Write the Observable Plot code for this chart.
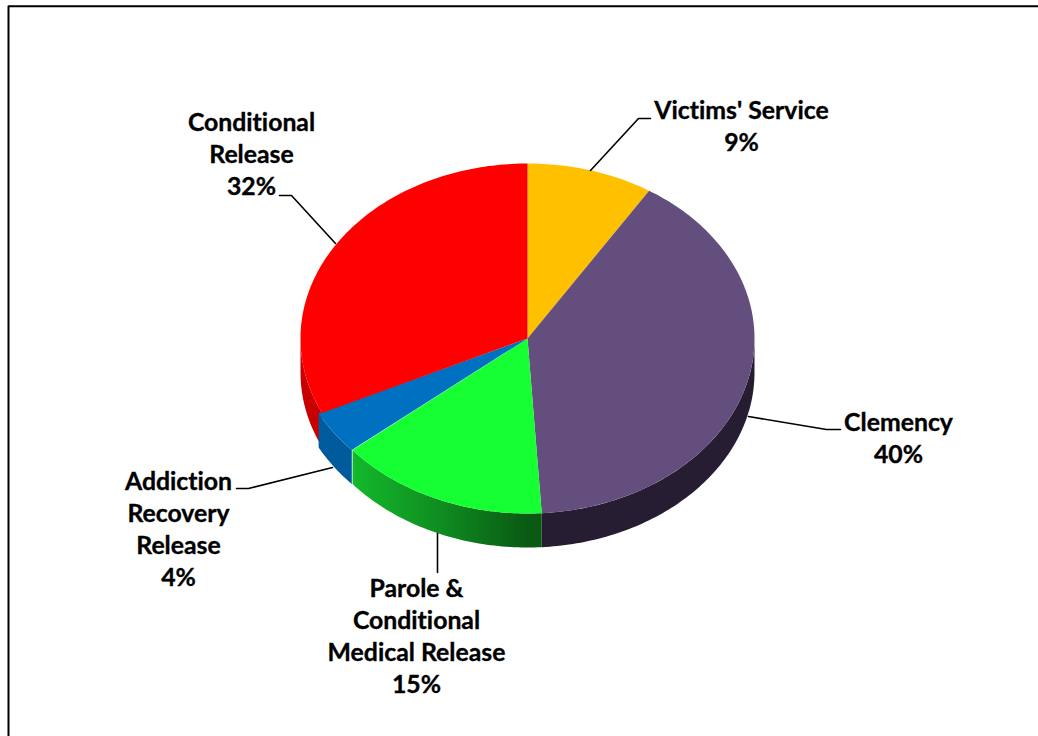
<!DOCTYPE html>
<html>
<head>
<meta charset="utf-8">
<script src="https://cdn.jsdelivr.net/npm/d3@7"></script>
<script src="https://cdn.jsdelivr.net/npm/@observablehq/plot@0.6"></script>
<style>html,body{margin:0;padding:0;background:#fff;overflow:hidden}svg{display:block}svg text{font-variant-ligatures:none}</style>
</head>
<body>
<div id="chart"></div>
<script>
// Data, clockwise from twelve o'clock
const categories = ["Victims' Service", "Clemency", "Parole & Conditional Medical Release", "Addiction Recovery Release", "Conditional Release"];
const shares = [9, 40, 15, 4, 32];
const labelLines = [["Victims' Service"], ["Clemency"], ["Parole &", "Conditional", "Medical Release"], ["Addiction", "Recovery", "Release"], ["Conditional", "Release"]];

// Styles
const topColors = ["#FFC000", "#634E7D", "#15FF33", "#0070C0", "#FF0000"];
const wallColors = ["#B38600", "#271D32", "url(#greenWall)", "url(#blueWall)", "#C80000"];

// Layout (pie geometry and annotation placement in picture units)
const pie = {cx: 527, cy: 338, rx: 227, ry: 175, depth: 34};
const blueShift = [[-0.8, 0], [-3.5, 0.5]];
const labelCenters = [[741, 126], [898, 438], [416, 636], [178, 529], [251, 154]];
const leaders = [
  [[590, 170], [638, 118], [650, 118]],
  [[748, 416], [826, 429], [840, 429]],
  [[437, 533], [437, 572]],
  [[332, 467], [248, 488], [236, 488]],
  [[335, 243], [291, 195], [279, 195]]
];

const cumulative = d3.cumsum(shares);
const ranges = shares.map((s, i) => [(cumulative[i] - s) * 3.6, cumulative[i] * 3.6]);
const rad = (a) => (a * Math.PI) / 180;
const noShift = [[0, 0], [0, 0]];
const arc = (a0, a1, dy = 0, shift = noShift, reverse = false) => {
  const n = Math.max(2, Math.ceil(Math.abs(a1 - a0)));
  return d3.range(n + 1).map((k) => {
    const f = k / n;
    const a = rad(a0 + (a1 - a0) * f);
    const g = reverse ? 1 - f : f;
    const sx = shift[0][0] + (shift[1][0] - shift[0][0]) * g;
    const sy = shift[0][1] + (shift[1][1] - shift[0][1]) * g;
    return {x: pie.cx + pie.rx * Math.sin(a) + sx, y: pie.cy - pie.ry * Math.cos(a) + dy + sy};
  });
};
const shiftOf = (i) => (i === 3 ? blueShift : noShift);
const topSlice = (i) => [{x: pie.cx, y: pie.cy}, ...arc(ranges[i][0], ranges[i][1], 0, shiftOf(i))];
const wall = (i, a0, a1) => [...arc(a0, a1, 0, shiftOf(i)), ...arc(a1, a0, pie.depth, shiftOf(i), true)];
const poly = (pts, color) => Plot.line(pts, {x: "x", y: "y", fill: color, stroke: "none", curve: "linear-closed"});

const defs = () => {
  const d = d3.create("svg:defs");
  const grad = (id, x1, x2, stops) => {
    const g = d.append("linearGradient").attr("id", id).attr("gradientUnits", "userSpaceOnUse")
      .attr("x1", x1).attr("x2", x2).attr("y1", 0).attr("y2", 0);
    stops.forEach(([o, c]) => g.append("stop").attr("offset", o).attr("stop-color", c));
  };
  grad("greenWall", 353, 541, [[0, "#13B82B"], [0.45, "#0F8E21"], [0.92, "#0A5A13"], [1, "#0A5A13"]]);
  grad("blueWall", 318, 350, [[0, "#005C9E"], [1, "#005A9C"]]);
  return d.node();
};

const wallPieces = [
  wall(1, Math.max(ranges[1][0], 90), ranges[1][1]),
  wall(2, ranges[2][0], ranges[2][1]),
  wall(4, ranges[4][0], 270),
  wall(3, ranges[3][0], ranges[3][1])
];
const wallIdx = [1, 2, 4, 3];

const plot = Plot.plot({
  width: 1038,
  height: 736,
  margin: 0,
  style: {background: "#fff"},
  x: {domain: [0, 1038], range: [0, 1038], axis: null},
  y: {domain: [0, 736], range: [0, 736], axis: null},
  marks: [
    defs,
    Plot.line([{x: 8, y: 736}, {x: 8, y: 5.7}, {x: 1038, y: 5.7}], {x: "x", y: "y", stroke: "#000", strokeWidth: 2}),
    ...wallPieces.map((pts, k) => poly(pts, wallColors[wallIdx[k]])),
    ...shares.map((_, i) => poly(topSlice(i), topColors[i])),
    ...leaders.map((pts) => Plot.line(pts, {x: (d) => d[0], y: (d) => d[1], stroke: "#000", strokeWidth: 1.6})),
    Plot.text(categories.map((_, i) => i), {
      x: (i) => labelCenters[i][0],
      y: (i) => labelCenters[i][1] - 2,
      text: (i) => [...labelLines[i], shares[i] + "%"].join("\n"),
      fontFamily: "Lato, Carlito, sans-serif",
      fontWeight: 700,
      fontSize: 24.8,
      lineHeight: 32 / 24.8,
      fill: "#000",
      stroke: "#000",
      strokeWidth: 0.35,
      textAnchor: "middle"
    })
  ]
});
document.getElementById("chart").append(plot);
</script>
</body>
</html>
